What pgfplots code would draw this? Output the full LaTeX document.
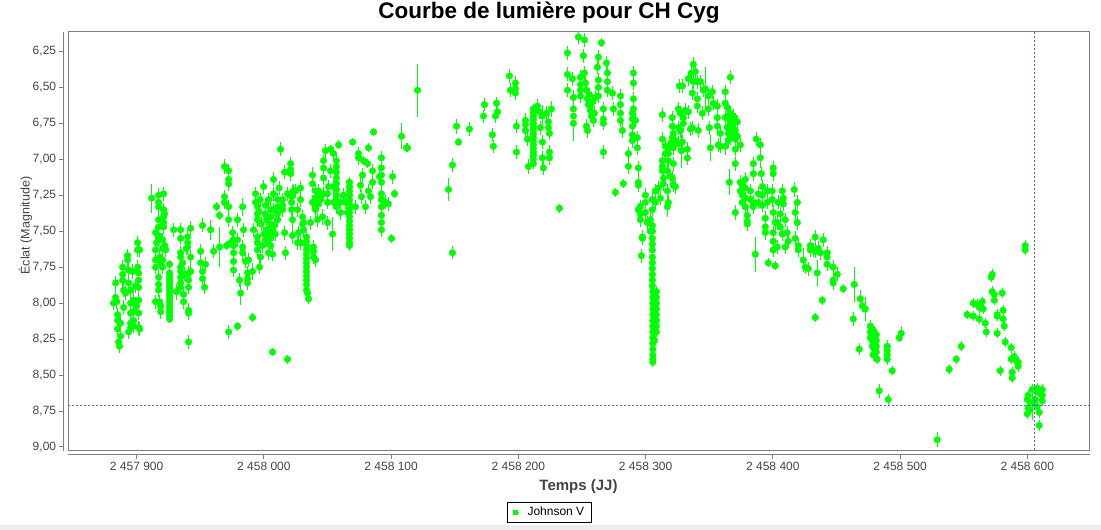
\documentclass[border=0pt]{standalone}
\usepackage{fontspec}
\setmainfont{Liberation Sans}
\usepackage{pgfplots}
\usepackage{pgfplotstable}
\pgfplotsset{compat=1.18}
\definecolor{jg}{RGB}{0,255,0}
\definecolor{axgray}{RGB}{128,128,128}
\definecolor{txtgray}{RGB}{68,68,68}
\definecolor{xhair}{RGB}{90,90,255}

% x = JD - 2457900, y = magnitude, e = error
\pgfplotstableread[row sep=\\]{
x y e\\
-18.1 8.00 .028\\ -16.5 7.86 .028\\ -16.5 7.96 .028\\ -15.7 7.99 .028\\ -14.9 8.08 .028\\ -14.9 8.12 .028\\
-14.9 8.18 .028\\ -14.1 8.27 .028\\ -13.5 8.30 .028\\ -12.6 8.23 .02\\ -12.6 8.14 .028\\ -11.0 7.75 .028\\
-11.0 7.80 .028\\ -11.0 7.84 .028\\ -10.2 7.91 .028\\ -10.2 8.03 .028\\ -8.6 7.93 .028\\ -7.1 7.67 .028\\
-7.1 7.70 .028\\ -6.3 7.77 .028\\ -6.3 7.86 .028\\ -6.3 8.20 .028\\ -4.7 7.91 .028\\ -4.7 8.00 .028\\
-4.7 8.07 .028\\ -4.7 8.14 .028\\ -4.7 8.17 .028\\ -3.2 7.78 .028\\ -2.4 7.98 .028\\ -2.4 8.06 .028\\
-2.4 8.12 .028\\ -2.4 8.16 .028\\ -1.0 7.88 .028\\ 0.0 8.02 .028\\ 0.8 7.58 .028\\ 0.8 7.63 .028\\
0.8 7.75 .028\\ 1.6 7.79 .028\\ 1.6 7.84 .028\\ 1.6 7.89 .028\\ 1.6 7.98 .028\\ 1.6 8.07 .028\\
1.6 8.17 .028\\ 2.4 7.63 .028\\ 2.4 8.18 .028\\
11.8 7.27 .08\\ 14.9 7.51 .028\\ 14.9 7.63 .028\\ 14.9 7.70 .028\\ 14.9 7.75 .028\\ 14.9 7.99 .028\\
15.7 7.58 .028\\ 17.3 7.25 .028\\ 17.3 7.30 .028\\ 17.3 7.33 .028\\ 17.3 7.42 .028\\ 17.3 7.47 .028\\
17.3 7.53 .028\\ 17.3 7.56 .028\\ 18.1 7.68 .028\\ 17.3 7.82 .028\\ 17.3 7.87 .028\\ 17.3 7.91 .028\\
18.1 7.99 .028\\ 18.9 8.02 .028\\ 18.9 8.06 .028\\ 19.0 7.72 .028\\ 20.4 7.56 .028\\ 20.4 7.62 .028\\
20.4 7.70 .028\\ 20.4 7.75 .028\\ 21.2 7.24 .028\\ 21.2 7.35 .028\\ 21.2 7.40 .028\\ 21.2 7.44 .028\\
21.2 7.47 .028\\ 22.0 7.38 .028\\ 22.0 7.60 .028\\ 22.8 7.63 .028\\ 25.9 7.73 .01\\
25.9 7.79 .01\\ 25.9 7.81 .01\\ 25.9 7.83 .01\\ 25.9 7.85 .01\\ 25.9 7.87 .01\\ 25.9 7.89 .01\\
25.9 7.91 .01\\ 25.9 7.93 .01\\ 25.9 7.95 .01\\ 25.9 7.97 .01\\ 25.9 7.99 .01\\ 25.9 8.01 .01\\
25.9 8.03 .01\\ 25.9 8.05 .01\\ 25.9 8.07 .01\\ 25.9 8.09 .01\\ 25.9 8.11 .01\\
29.1 7.49 .028\\ 31.4 7.92 .035\\
34.6 7.49 .028\\ 34.6 7.55 .028\\ 34.6 7.65 .028\\ 34.6 7.68 .028\\ 34.6 7.75 .028\\ 34.6 7.78 .028\\
34.6 7.82 .028\\ 34.6 7.86 .028\\ 34.6 7.89 .028\\ 36.1 7.72 .028\\ 36.9 7.94 .028\\ 36.9 7.99 .028\\
38.0 7.80 .028\\ 39.0 7.62 .028\\ 40.1 7.54 .028\\ 40.1 7.58 .028\\ 40.1 7.61 .028\\ 40.8 7.79 .028\\
40.8 7.84 .028\\ 40.8 7.89 .028\\ 40.8 8.05 .028\\ 40.8 8.07 .028\\ 40.8 8.27 .028\\ 42.4 7.48 .028\\
42.4 7.68 .028\\ 42.4 7.78 .028\\
51.8 7.46 .028\\ 50.3 7.64 .028\\ 50.3 7.72 .028\\ 51.8 7.78 .028\\ 51.8 7.83 .028\\ 53.4 7.89 .028\\
54.2 7.73 .028\\ 58.1 7.49 .05\\ 60.5 7.64 .028\\ 62.8 7.33 .01\\ 65.2 7.39 .01\\ 65.2 7.61 .12\\
69.1 7.05 .028\\ 72.3 7.08 .028\\ 72.3 7.14 .028\\ 72.3 7.17 .028\\ 69.1 7.26 .028\\ 69.1 7.30 .028\\
72.3 7.33 .028\\ 72.3 7.42 .028\\ 70.7 7.60 .01\\ 73.8 7.58 .01\\ 72.3 8.20 .028\\ 75.4 7.51 .028\\
76.2 7.56 .028\\ 76.2 7.60 .028\\ 76.2 7.65 .028\\ 76.2 7.71 .028\\ 76.2 7.77 .028\\ 79.3 7.42 .028\\
79.3 7.56 .028\\ 79.3 8.16 .01\\ 80.9 7.84 .028\\ 81.7 7.93 .06\\ 83.3 7.33 .04\\ 83.3 7.61 .028\\
83.3 7.65 .028\\ 84.0 7.49 .028\\ 85.6 7.71 .028\\ 87.2 7.79 .028\\ 87.2 7.83 .028\\ 87.2 7.86 .028\\
88.0 7.70 .028\\ 91.1 7.78 .04\\ 91.1 8.10 .01\\ 91.9 7.49 .028\\ 93.5 7.24 .028\\ 93.5 7.30 .028\\
95.0 7.33 .028\\ 95.0 7.38 .028\\ 95.0 7.42 .028\\ 95.0 7.54 .028\\ 95.0 7.58 .028\\ 95.0 7.63 .028\\
96.6 7.75 .028\\ 97.4 7.68 .028\\ 99.8 7.19 .028\\ 101.3 7.32 .028\\ 102.1 7.42 .028\\ 102.1 7.49 .028\\
102.1 7.56 .028\\ 103.7 7.49 .028\\ 103.7 7.53 .028\\ 103.7 7.59 .028\\ 103.7 7.65 .028\\ 105.3 7.35 .028\\
105.3 7.40 .028\\ 105.3 7.45 .028\\ 105.3 7.50 .028\\ 105.3 7.55 .028\\ 105.3 7.60 .028\\ 107.6 7.14 .028\\
107.6 7.24 .028\\ 107.6 7.35 .028\\ 106.8 7.66 .028\\ 106.8 8.34 .01\\ 110.8 7.28 .028\\ 110.8 7.33 .028\\
110.8 7.38 .028\\ 110.8 7.42 .028\\ 113.1 6.93 .028\\ 114.7 7.28 .028\\ 114.7 7.32 .028\\ 114.7 7.35 .028\\
116.3 7.09 .028\\ 116.3 7.51 .028\\ 117.0 7.65 .028\\ 118.6 7.24 .028\\ 118.6 8.39 .01\\ 121.0 7.03 .028\\
121.0 7.07 .028\\ 121.0 7.10 .028\\ 121.8 7.26 .028\\ 121.8 7.30 .028\\ 121.8 7.35 .028\\ 123.3 7.22 .028\\
98.0 7.45 .028\\ 100.0 7.52 .028\\ 99.0 7.60 .028\\ 101.0 7.38 .028\\ 104.0 7.28 .028\\ 108.0 7.46 .028\\
109.0 7.52 .028\\ 112.0 7.20 .028\\ 97.0 7.28 .028\\ 96.0 7.36 .028\\
122.5 7.23 .028\\ 122.5 7.42 .028\\ 122.5 7.53 .035\\ 124.9 7.22 .028\\ 126.5 7.35 .028\\ 127.3 7.51 .028\\
128.8 7.20 .028\\ 128.8 7.28 .028\\ 128.8 7.58 .028\\ 130.4 7.40 .028\\ 130.4 7.45 .028\\ 131.2 7.49 .028\\
131.2 7.44 .028\\ 126.5 7.58 .028\\
133.5 7.54 .015\\ 133.5 7.57 .015\\ 133.5 7.60 .015\\ 133.5 7.63 .015\\ 133.5 7.66 .015\\ 133.5 7.69 .015\\
133.5 7.72 .015\\ 133.5 7.75 .015\\ 133.5 7.78 .015\\ 133.5 7.81 .015\\ 133.5 7.84 .015\\ 133.5 7.87 .015\\
133.5 7.91 .015\\ 134.3 7.93 .015\\ 135.1 7.97 .015\\
136.7 7.44 .028\\ 138.2 7.11 .035\\ 138.2 7.17 .028\\ 138.2 7.30 .028\\ 139.0 7.61 .028\\ 139.0 7.64 .028\\
139.0 7.68 .028\\ 140.6 7.22 .028\\ 140.6 7.27 .028\\ 140.6 7.31 .028\\ 140.6 7.35 .028\\ 140.6 7.70 .028\\
142.2 7.42 .028\\ 143.0 7.22 .028\\ 143.0 7.26 .028\\ 143.0 7.31 .028\\ 144.5 7.28 .028\\ 146.1 7.40 .035\\
146.9 7.01 .028\\ 146.9 7.06 .028\\ 146.9 7.13 .028\\ 146.9 7.24 .028\\ 148.5 6.94 .028\\ 150.0 7.24 .028\\
150.0 7.30 .028\\ 150.0 7.44 .028\\ 150.8 7.19 .028\\ 152.4 6.93 .01\\ 152.4 7.08 .028\\ 154.0 7.52 .1\\
154.7 6.96 .028\\ 154.7 7.19 .028\\ 154.7 7.30 .028\\
157.0 7.01 .028\\ 157.0 7.05 .028\\ 157.0 7.09 .028\\ 157.0 7.13 .028\\ 157.0 7.17 .028\\ 157.0 7.21 .028\\
157.0 7.25 .028\\ 157.0 7.29 .028\\ 157.0 7.33 .028\\
158.7 6.90 .01\\ 160.2 7.30 .028\\ 160.2 7.37 .028\\ 162.6 7.25 .028\\ 164.2 7.30 .028\\ 165.7 7.37 .028\\
167.3 7.16 .015\\ 167.3 7.19 .015\\ 167.3 7.22 .015\\ 167.3 7.25 .015\\ 167.3 7.28 .015\\ 167.3 7.31 .015\\
167.3 7.34 .015\\ 167.3 7.37 .015\\ 167.3 7.40 .015\\ 167.3 7.43 .015\\ 167.3 7.46 .015\\ 167.3 7.49 .015\\
167.3 7.52 .015\\ 167.3 7.55 .015\\ 167.3 7.58 .015\\ 167.3 7.60 .015\\
169.7 6.88 .01\\ 172.0 7.33 .028\\ 174.4 6.96 .028\\ 174.4 6.99 .028\\ 176.0 7.18 .028\\ 176.7 7.26 .028\\
177.5 7.11 .028\\ 178.3 7.01 .01\\ 179.9 7.33 .028\\ 181.5 7.03 .01\\ 182.2 6.92 .01\\ 182.2 7.22 .028\\
183.8 7.26 .028\\ 185.4 7.08 .028\\ 185.4 7.16 .028\\ 186.2 6.81 .01\\
192.4 6.99 .028\\ 192.4 7.06 .028\\ 192.4 7.11 .028\\ 192.4 7.16 .028\\ 192.4 7.24 .028\\ 192.4 7.28 .028\\
192.4 7.33 .028\\ 192.4 7.39 .028\\ 192.4 7.44 .028\\ 192.4 7.49 .028\\ 190.9 7.12 .028\\
195.6 7.30 .028\\ 197.9 7.31 .028\\ 200.3 7.55 .01\\ 201.1 7.12 .028\\ 202.7 7.24 .01\\
208.2 6.84 .07\\ 212.1 6.92 .01\\ 212.9 6.92 .01\\ 220.7 6.52 .165\\
245.1 7.21 .06\\ 248.2 7.04 .025\\ 248.2 7.65 .025\\ 251.4 6.77 .03\\ 252.9 6.88 .01\\ 261.6 6.79 .025\\
272.6 6.70 .025\\ 273.4 6.62 .025\\ 279.6 6.83 .025\\ 280.4 6.91 .025\\ 282.0 6.70 .025\\ 282.8 6.61 .025\\
283.6 6.67 .025\\ 293.0 6.42 .028\\ 293.8 6.52 .028\\ 297.7 6.47 .028\\ 297.7 6.51 .028\\ 297.7 6.54 .028\\
298.5 6.77 .028\\ 298.5 6.95 .028\\ 305.6 6.73 .028\\ 305.6 6.76 .028\\ 305.6 6.80 .028\\ 307.1 6.86 .028\\
307.9 7.05 .028\\
311.8 6.65 .015\\ 311.8 6.675 .015\\ 311.8 6.70 .015\\ 311.8 6.725 .015\\ 311.8 6.75 .015\\ 311.8 6.775 .015\\
311.8 6.80 .015\\ 311.8 6.825 .015\\ 311.8 6.85 .015\\ 311.8 6.875 .015\\ 311.8 6.90 .015\\ 311.8 6.925 .015\\
311.8 6.95 .015\\ 311.8 6.975 .015\\ 311.8 7.00 .015\\ 311.8 7.03 .015\\
315.0 6.63 .028\\ 316.6 6.67 .028\\ 317.3 6.78 .028\\ 318.9 6.70 .06\\ 318.9 6.88 .028\\ 318.9 6.99 .028\\
319.7 7.06 .028\\ 322.1 6.68 .028\\ 323.6 6.74 .028\\ 323.6 6.78 .028\\ 324.4 6.82 .028\\ 324.4 6.95 .028\\
324.4 6.99 .028\\ 326.0 6.65 .035\\ 332.3 7.34 .01\\
338.6 6.26 .028\\ 338.6 6.41 .028\\ 338.6 6.52 .028\\ 342.5 6.44 .028\\ 343.3 6.57 .028\\ 343.3 6.65 .028\\
343.3 6.70 .028\\ 343.3 6.75 .1\\ 347.2 6.15 .028\\ 348.8 6.43 .028\\ 348.8 6.48 .028\\ 348.8 6.52 .028\\
348.8 6.56 .028\\ 351.1 6.28 .028\\ 351.9 6.17 .028\\ 351.9 6.40 .028\\ 352.7 6.47 .028\\ 353.5 6.52 .028\\
354.3 6.58 .028\\ 355.0 6.62 .028\\ 355.8 6.55 .028\\ 356.6 6.66 .028\\ 357.4 6.70 .028\\ 358.2 6.60 .028\\
359.0 6.73 .028\\ 353.5 6.77 .028\\ 354.3 6.80 .028\\ 356.6 6.63 .028\\ 359.8 6.68 .028\\ 360.6 6.57 .028\\
362.1 6.36 .028\\ 362.9 6.29 .028\\ 362.9 6.45 .028\\ 362.9 6.50 .028\\ 362.9 6.56 .028\\ 365.3 6.19 .01\\
366.8 6.65 .028\\ 366.8 6.72 .028\\ 366.8 6.75 .028\\ 366.8 6.95 .028\\ 369.2 6.33 .028\\ 370.0 6.40 .028\\
370.0 6.46 .028\\ 370.0 6.52 .028\\ 373.9 6.54 .028\\ 374.7 6.65 .028\\ 376.3 7.23 .01\\ 380.2 6.56 .028\\
380.2 6.62 .028\\ 380.2 6.68 .028\\ 380.2 6.73 .028\\ 381.7 6.80 .028\\ 382.5 7.17 .01\\ 386.5 6.96 .028\\
386.5 7.05 .028\\ 390.4 6.40 .028\\ 390.4 6.47 .028\\ 390.4 6.58 .028\\ 390.4 6.65 .028\\ 389.6 6.68 .028\\
389.6 6.72 .028\\ 389.6 6.77 .028\\ 389.6 6.83 .028\\ 389.6 6.87 .028\\ 392.0 6.73 .028\\ 393.5 6.85 .028\\
393.5 6.92 .028\\ 394.3 7.06 .028\\ 394.3 7.16 .028\\ 394.3 7.18 .028\\ 394.3 7.35 .028\\ 395.9 7.33 .028\\
395.9 7.38 .028\\ 395.9 7.42 .028\\ 397.5 7.54 .028\\ 396.7 7.67 .028\\
405.3 7.46 .015\\ 405.3 7.50 .015\\ 405.3 7.55 .015\\ 405.3 7.59 .015\\ 405.3 7.63 .015\\ 405.3 7.68 .015\\
405.3 7.72 .015\\ 405.3 7.76 .015\\ 405.3 7.80 .015\\ 405.3 7.84 .015\\ 405.3 7.88 .015\\
405.7 7.92 .015\\ 405.7 7.96 .015\\ 405.7 8.00 .015\\ 405.7 8.04 .015\\ 405.7 8.08 .015\\ 405.7 8.12 .015\\
405.7 8.16 .015\\ 405.7 8.20 .015\\ 405.7 8.24 .015\\ 405.7 8.28 .015\\ 405.7 8.32 .015\\ 405.7 8.36 .015\\
405.7 8.39 .015\\ 405.7 8.41 .015\\
408.5 7.92 .015\\ 408.5 7.96 .015\\ 408.5 8.00 .015\\ 408.5 8.04 .015\\ 408.5 8.08 .015\\ 408.5 8.12 .015\\
408.5 8.16 .015\\ 408.5 8.20 .015\\ 407.0 7.94 .015\\ 407.0 8.02 .015\\ 407.0 8.10 .015\\ 407.0 8.18 .015\\
407.0 8.26 .015\\
397.5 7.55 .028\\ 399.8 7.25 .028\\ 399.8 7.30 .028\\ 399.8 7.37 .028\\ 401.4 7.44 .028\\ 403.7 7.42 .028\\
403.7 7.50 .028\\ 405.3 7.28 .028\\ 405.3 7.35 .028\\ 407.7 7.22 .028\\ 407.7 7.30 .028\\ 410.0 7.20 .028\\
411.6 7.27 .028\\ 413.2 6.69 .028\\ 413.2 6.86 .028\\ 413.2 7.01 .028\\ 413.2 7.05 .028\\ 413.2 7.08 .028\\
414.0 7.13 .028\\ 414.0 7.17 .028\\ 415.6 6.91 .028\\ 415.6 6.96 .028\\ 417.1 7.08 .028\\ 417.1 7.22 .028\\
417.1 7.33 .05\\ 417.9 6.92 .028\\ 417.9 6.96 .028\\ 417.9 7.01 .028\\ 417.9 7.30 .028\\ 419.5 6.89 .028\\
419.5 7.12 .028\\ 421.0 6.71 .028\\ 421.0 6.77 .028\\ 421.0 6.85 .028\\ 421.0 6.89 .028\\ 421.0 7.13 .028\\
421.8 6.82 .028\\ 421.8 6.86 .028\\ 421.8 6.92 .028\\ 421.8 7.03 .028\\ 421.8 7.18 .028\\ 423.4 6.87 .028\\
423.4 7.19 .028\\ 425.8 6.65 .028\\ 425.8 6.78 .028\\ 425.8 6.89 .028\\ 426.6 6.49 .028\\ 427.3 6.68 .028\\
427.3 6.80 .028\\ 428.1 6.94 .1\\ 428.9 6.49 .028\\ 428.9 6.88 .028\\ 429.7 6.71 .028\\ 429.7 6.75 .028\\
431.2 6.66 .028\\ 432.8 6.93 .028\\ 432.8 6.99 .028\\ 433.6 6.44 .028\\ 433.6 6.67 .028\\ 435.2 6.79 .028\\
435.9 6.40 .028\\ 436.7 6.54 .028\\ 436.7 6.78 .028\\ 437.5 6.34 .028\\ 437.5 6.46 .028\\ 439.1 6.39 .028\\
440.7 6.46 .028\\ 440.7 6.58 .028\\ 440.7 6.63 .028\\ 441.4 6.80 .028\\ 443.0 6.46 .028\\ 444.6 6.68 .028\\
445.4 6.52 .028\\ 446.9 6.51 .13\\ 449.3 6.56 .028\\ 449.3 6.65 .028\\ 450.1 6.78 .028\\ 450.9 6.92 .07\\
452.4 6.53 .028\\ 453.2 6.61 .028\\ 456.4 6.63 .028\\ 456.4 6.71 .028\\ 456.4 6.77 .028\\ 457.2 6.90 .028\\
458.7 6.82 .028\\ 458.7 6.91 .028\\ 462.6 6.53 .028\\ 462.6 6.61 .028\\ 462.6 6.71 .028\\ 462.6 6.91 .04\\
464.2 6.64 .028\\ 464.2 6.70 .028\\ 464.2 6.78 .028\\ 465.0 6.82 .028\\ 465.0 6.87 .028\\ 466.6 6.43 .028\\
466.6 6.68 .028\\ 466.6 6.74 .028\\ 466.6 6.80 .028\\ 466.6 6.85 .028\\ 468.1 6.71 .028\\ 468.1 6.77 .028\\
468.1 6.82 .028\\ 468.9 6.70 .028\\ 470.5 6.73 .028\\ 470.5 6.80 .028\\ 470.5 6.86 .028\\ 470.5 6.93 .028\\
470.5 7.03 .028\\ 472.1 6.74 .028\\ 472.1 6.84 .028\\ 474.4 6.90 .028\\
465.8 7.16 .07\\ 470.5 7.37 .028\\ 474.4 7.16 .028\\ 474.4 7.22 .028\\ 476.0 7.18 .028\\ 476.0 7.25 .028\\
476.0 7.30 .028\\ 478.4 7.14 .028\\ 478.4 7.20 .028\\ 478.4 7.27 .028\\ 478.4 7.33 .028\\ 479.9 7.39 .028\\
479.9 7.43 .028\\ 479.9 7.45 .028\\ 482.3 7.22 .028\\ 482.3 7.28 .028\\ 484.7 7.03 .028\\ 484.7 7.10 .028\\
484.7 7.30 .028\\ 484.7 7.33 .028\\ 486.2 7.66 .1\\ 487.0 6.86 .028\\ 488.6 7.24 .028\\ 488.6 7.30 .028\\
490.1 6.90 .028\\ 490.1 6.99 .05\\ 490.9 7.10 .028\\ 491.7 7.19 .028\\ 491.7 7.25 .028\\ 491.7 7.32 .028\\
494.1 7.41 .028\\ 494.1 7.47 .028\\ 494.1 7.51 .028\\ 495.6 7.22 .028\\ 495.6 7.30 .028\\ 496.4 7.72 .01\\
499.5 7.22 .028\\ 499.5 7.28 .028\\ 500.3 7.06 .028\\ 500.3 7.10 .028\\ 500.3 7.37 .028\\ 500.3 7.51 .028\\
500.3 7.57 .028\\ 500.3 7.63 .028\\ 501.9 7.44 .028\\ 501.9 7.74 .01\\ 503.5 7.44 .028\\ 503.5 7.61 .028\\
504.2 7.30 .028\\ 505.8 7.38 .028\\ 505.8 7.47 .028\\ 507.4 7.22 .028\\ 507.4 7.52 .028\\ 508.2 7.27 .028\\
508.2 7.31 .028\\ 509.7 7.42 .028\\ 509.7 7.61 .028\\ 511.3 7.51 .028\\ 512.1 7.57 .028\\ 516.8 7.21 .028\\
517.6 7.37 .028\\ 517.6 7.55 .028\\ 519.2 7.30 .028\\ 519.2 7.44 .028\\ 520.0 7.60 .028\\ 520.0 7.63 .028\\
523.9 7.70 .06\\ 525.5 7.75 .028\\ 527.8 7.76 .028\\ 529.4 7.60 .028\\ 529.4 7.63 .028\\ 531.8 7.63 .028\\
533.3 7.54 .028\\ 533.3 7.64 .028\\ 533.3 8.10 .01\\ 534.9 7.79 .07\\ 535.7 7.62 .028\\ 537.3 7.65 .028\\
538.8 7.98 .01\\ 539.6 7.56 .028\\ 542.7 7.65 .028\\ 542.7 7.68 .028\\ 542.7 7.73 .028\\ 547.4 7.75 .028\\
547.4 7.84 .028\\ 547.4 7.86 .028\\ 550.6 7.80 .028\\ 555.3 7.90 .01\\ 563.2 8.11 .03\\ 564.0 7.87 .1\\
568.7 7.97 .04\\ 567.9 8.32 .02\\ 570.3 8.02 .02\\ 572.6 8.04 .06\\
576.6 8.16 .02\\ 576.6 8.20 .02\\ 576.6 8.24 .02\\ 578.2 8.18 .02\\ 578.2 8.22 .02\\ 578.2 8.26 .02\\
578.2 8.30 .02\\ 579.7 8.20 .02\\ 579.7 8.24 .02\\ 579.7 8.28 .02\\ 579.7 8.32 .02\\ 581.3 8.22 .02\\
581.3 8.26 .02\\ 581.3 8.30 .02\\ 581.3 8.34 .02\\ 578.9 8.36 .02\\ 582.0 8.39 .01\\ 583.6 8.61 .03\\
589.9 8.30 .02\\ 589.9 8.33 .02\\ 589.9 8.36 .02\\ 589.9 8.39 .02\\ 590.7 8.67 .02\\ 593.8 8.47 .01\\
599.3 8.24 .01\\ 600.9 8.21 .03\\
629.2 8.95 .03\\ 638.6 8.46 .015\\ 644.1 8.39 .01\\ 648.0 8.30 .015\\ 652.7 8.08 .01\\ 657.5 8.00 .015\\
657.5 8.09 .015\\ 660.6 8.01 .015\\ 662.2 8.03 .015\\ 662.2 8.11 .015\\ 664.5 7.99 .015\\ 665.3 8.04 .015\\
666.9 8.14 .015\\ 667.7 8.20 .015\\ 671.6 7.82 .015\\ 672.4 7.80 .015\\ 672.4 7.92 .015\\ 674.0 7.94 .015\\
674.0 7.98 .015\\ 676.3 8.08 .015\\ 676.3 8.09 .015\\ 676.3 8.21 .015\\ 678.7 8.47 .015\\ 680.2 7.93 .015\\
681.0 8.05 .015\\ 681.0 8.11 .015\\ 681.8 8.16 .015\\ 682.6 8.27 .015\\ 687.3 8.31 .015\\ 687.3 8.39 .015\\
688.1 8.48 .015\\ 688.1 8.52 .015\\ 689.7 8.37 .015\\ 692.0 8.41 .015\\ 692.8 8.41 .015\\ 692.8 8.44 .015\\
698.3 7.60 .015\\ 698.3 7.63 .015\\ 699.9 8.67 .015\\ 699.9 8.77 .015\\ 700.7 8.64 .015\\ 700.7 8.73 .015\\
702.2 8.74 .015\\ 703.8 8.60 .015\\ 703.8 8.69 .1\\ 706.2 8.67 .015\\ 707.7 8.59 .015\\ 707.7 8.72 .015\\
708.5 8.62 .015\\ 709.3 8.76 .015\\ 709.3 8.85 .015\\ 711.7 8.60 .015\\ 711.7 8.64 .015\\ 711.7 8.68 .015\\
}\lc

\begin{document}
\begin{tikzpicture}
\useasboundingbox (0pt,0pt) rectangle (1101pt,530pt);
\fill[white] (0pt,0pt) rectangle (1101pt,530pt);
\fill[black!7] (0pt,0pt) rectangle (1101pt,5pt);
\begin{axis}[name=ax, at={(68.3pt,79.3pt)}, anchor=south west,
  scale only axis, width=1021.4pt, height=419pt,
  xmin=-53.7, xmax=749.0, ymin=6.113, ymax=9.026, y dir=reverse,
  axis line style={axgray, line width=1pt},
  xtick={0,100,200,300,400,500,600,700},
  xticklabels={2 457 900,2 458 000,2 458 100,2 458 200,2 458 300,2 458 400,2 458 500,2 458 600},
  ytick={6.25,6.5,6.75,7,7.25,7.5,7.75,8,8.25,8.5,8.75,9},
  yticklabels={{6,25},{6,50},{6,75},{7,00},{7,25},{7,50},{7,75},{8,00},{8,25},{8,50},{8,75},{9,00}},
  xtick pos=bottom, ytick pos=left,
  tick align=outside, major tick length=4pt,
  x tick style={axgray, line width=1pt, yshift=-4pt},
  y tick style={axgray, line width=1pt, xshift=-5pt},
  xticklabel style={font=\fontsize{12}{14}\selectfont, text=txtgray, inner sep=0pt, anchor=north, yshift=-7pt},
  yticklabel style={font=\fontsize{12}{14}\selectfont, text=txtgray, inner sep=0pt, anchor=east, xshift=-8pt},
  clip mode=individual,
  legend style={at={(0.4711,-0.1475)}, anchor=center, draw=black, line width=1pt,
     font=\fontsize{12}{14}\selectfont, inner xsep=6pt, inner ysep=3pt,
     nodes={inner sep=1.5pt, text height=9pt, text depth=2.5pt},
     /tikz/column 1/.style={column sep=8pt}},
]
\addplot[forget plot, only marks, mark=*, mark size=3.3pt, draw=jg, fill=jg,
  mark options={draw=jg, fill=jg},
  error bars/.cd, y dir=both, y explicit,
  error bar style={draw=jg, line width=1pt},
  error mark options={draw=jg, line width=1pt, mark size=3pt}]
  table[x=x, y=y, y error=e] {\lc};
\addplot[forget plot, draw=xhair, line width=1pt, dash pattern=on 2pt off 2pt] coordinates {(705.6,6.113) (705.6,9.026)};
\addplot[forget plot, draw=xhair, line width=1pt, dash pattern=on 2pt off 2pt] coordinates {(-53.7,8.712) (749.0,8.712)};
\addlegendimage{only marks, mark=*, mark size=2.4pt, draw=jg, fill=jg, line width=0pt}
\addlegendentry{Johnson V}
\end{axis}
\draw[axgray, line width=1pt] ([xshift=-5pt]ax.south west) -- ([xshift=-5pt]ax.north west);
\draw[axgray, line width=1pt] ([yshift=-4pt]ax.south west) -- ([yshift=-4pt]ax.south east);
\node[anchor=base, font=\bfseries\fontsize{22.5}{27}\selectfont] at (549pt,511.7pt) {Courbe de lumière pour CH Cyg};
\node[anchor=base, font=\bfseries\fontsize{15}{18}\selectfont, text=txtgray] at (578.5pt,39.3pt) {Temps (JJ)};
\node[rotate=90, anchor=center, font=\fontsize{12.5}{15}\selectfont, text=txtgray] at (25.5pt,304.5pt) {Éclat (Magnitude)};
\end{tikzpicture}
\end{document}
